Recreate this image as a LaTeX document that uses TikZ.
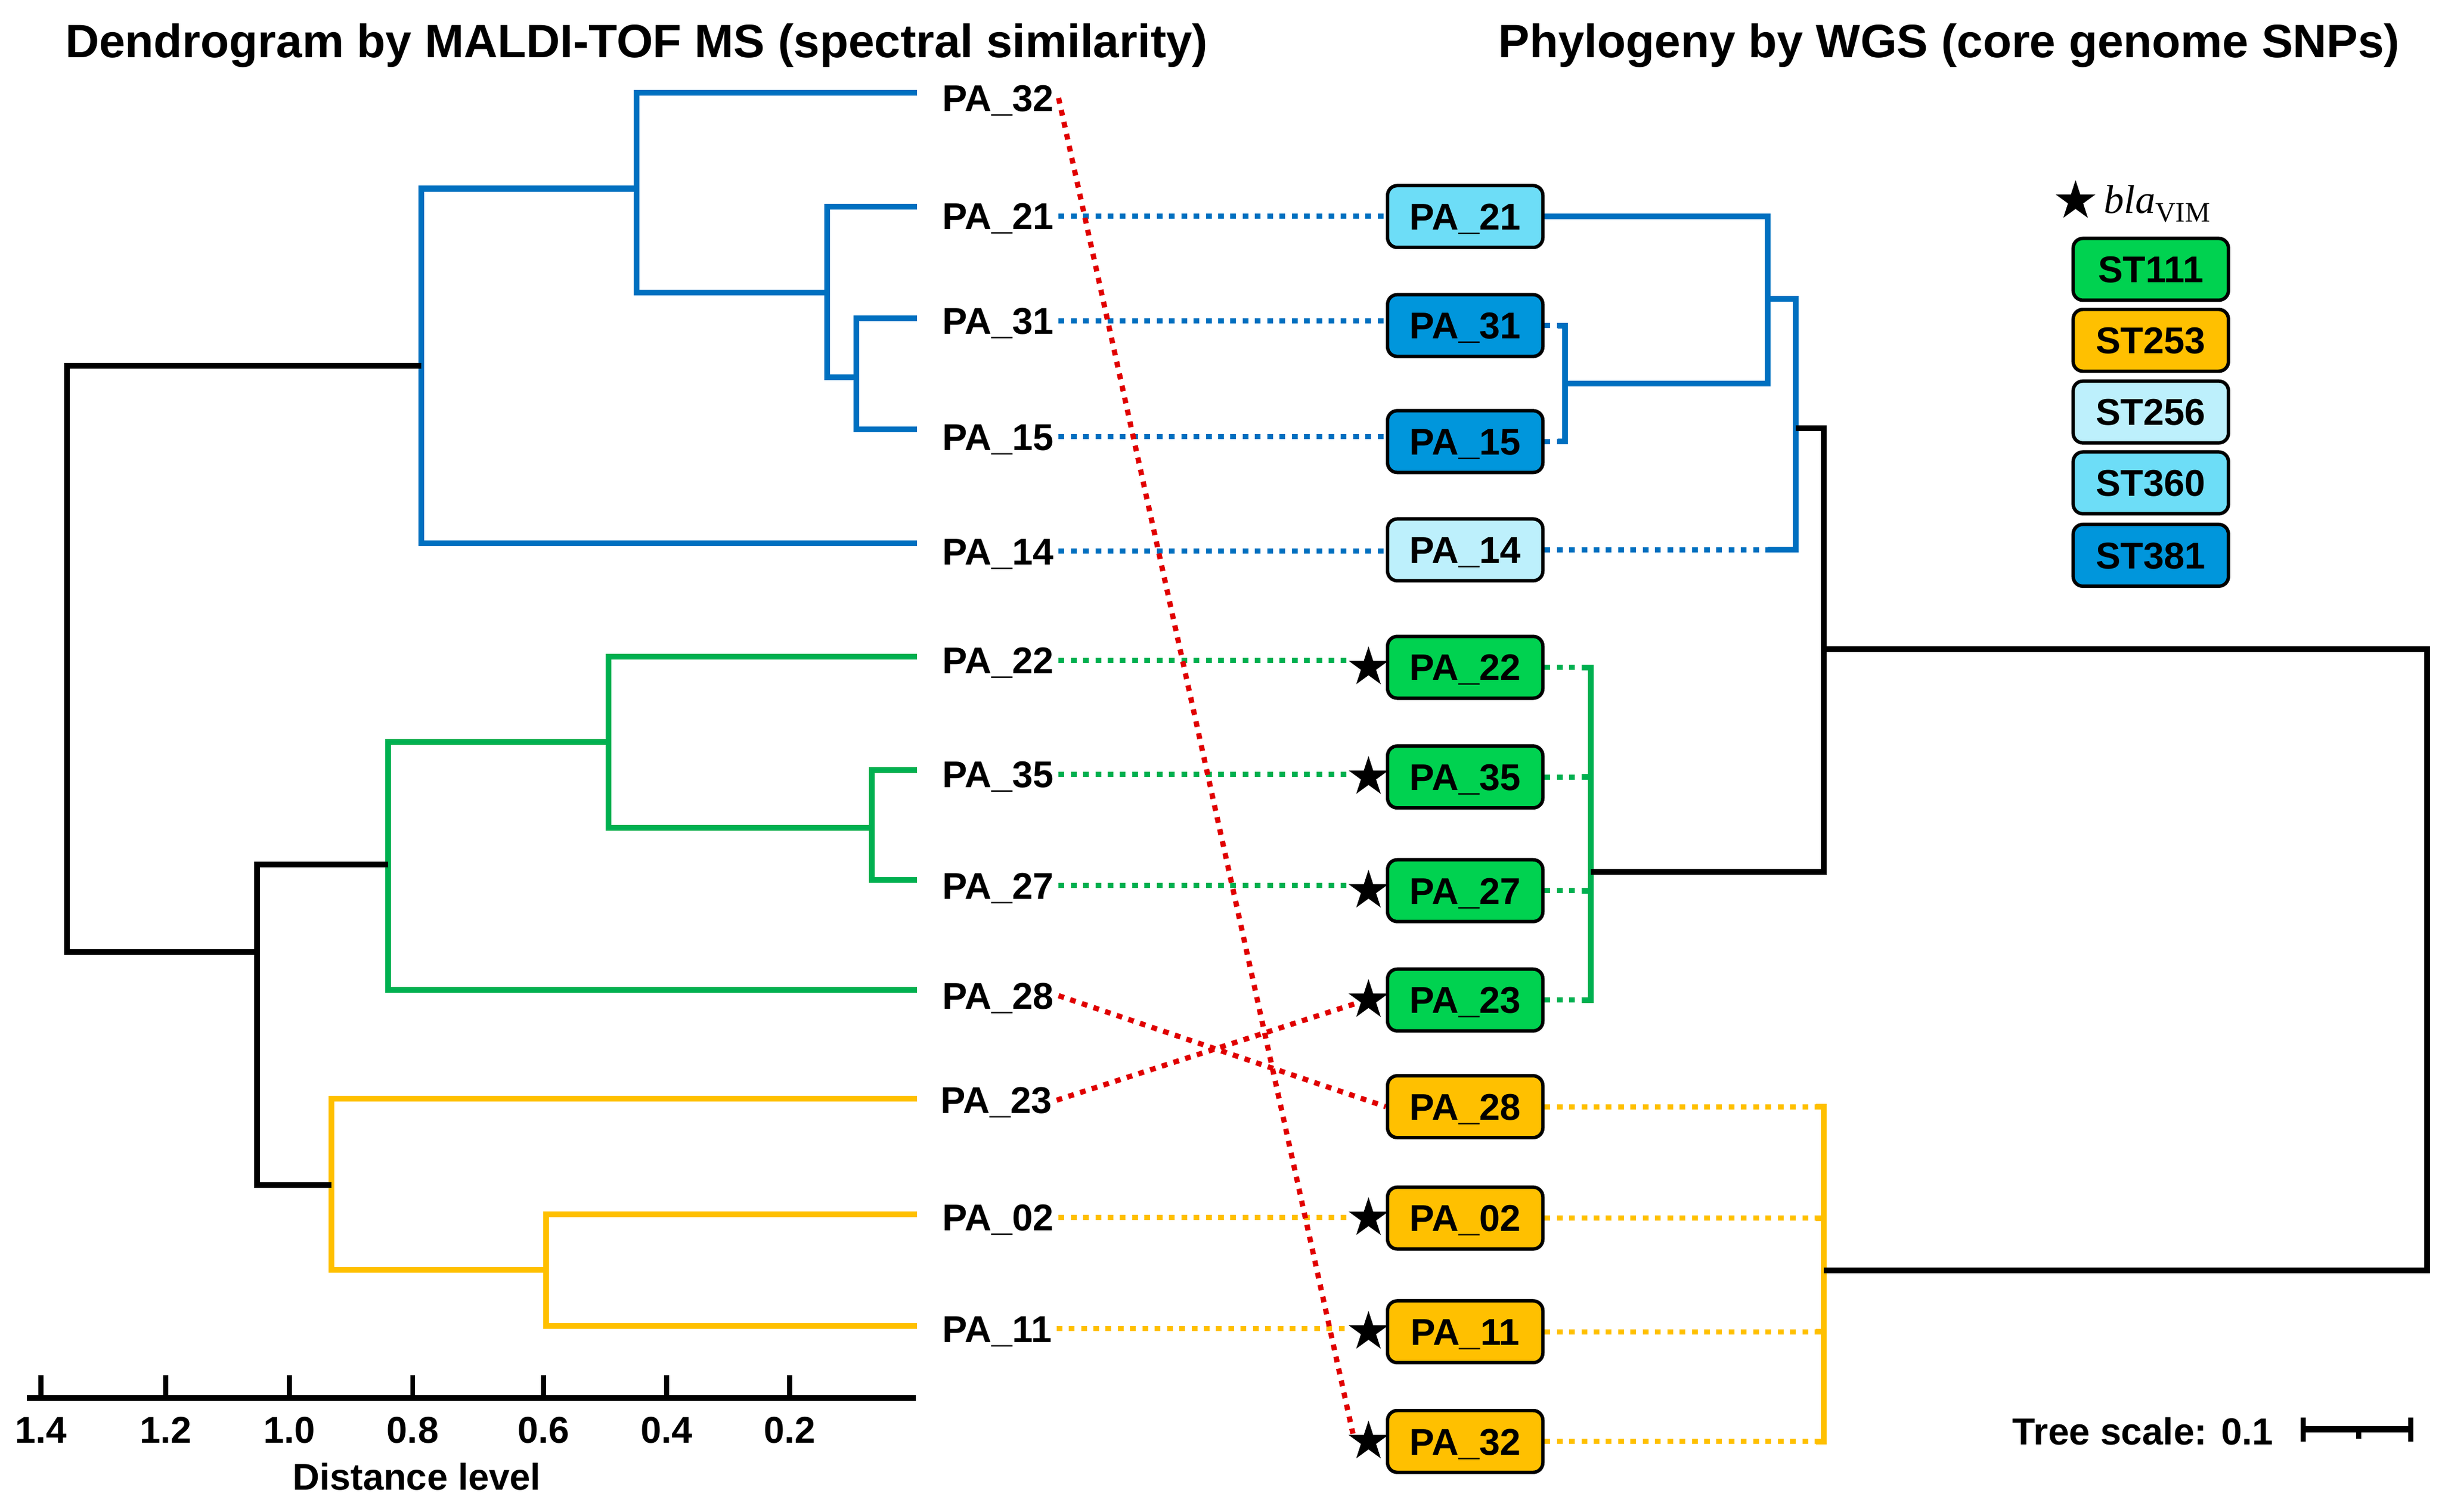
\documentclass[tikz,border=0pt]{standalone}
\usepackage{fontspec}
\setmainfont{Liberation Sans}
\newfontfamily\serfam{Liberation Serif}
\usetikzlibrary{shapes.geometric,calc}
\pgfdeclarelayer{paper}
\pgfdeclarelayer{links}
\pgfsetlayers{paper,links,main}
\definecolor{tblue}{HTML}{0070C0}
\definecolor{tgreen}{HTML}{00B050}
\definecolor{tyellow}{HTML}{FFC000}
\definecolor{tred}{HTML}{E00000}
\definecolor{stgreen}{HTML}{00D250}
\definecolor{styellow}{HTML}{FFC000}
\definecolor{stpale}{HTML}{BDF0FC}
\definecolor{stcyan}{HTML}{6DDDF7}
\definecolor{stdeep}{HTML}{0096DC}
\begin{document}
\begin{tikzpicture}[x=0.0272066cm,y=-0.0272066cm,
  tl/.style={line width=2.85pt},
  dl/.style={line width=2.6pt,dash pattern=on 2.85pt off 3.25pt},
  lab/.style={inner xsep=2.2pt,inner ysep=0pt,text height=13.25pt,text depth=0pt,font=\fontsize{18.5}{22}\selectfont\bfseries},
  leaf/.style={lab,anchor=west},
  box/.style={lab,draw=black,line width=1.7pt,rounded corners=0.17cm,minimum width=2.713cm,minimum height=1.08cm,inner sep=0pt},
  vstar/.style={star,star points=5,star point ratio=2.618,fill=black,draw=none,minimum size=0.729cm,inner sep=0pt},
  ttl/.style={inner sep=0pt,text height=16.7pt,text depth=0pt,font=\fontsize{23.3}{28}\selectfont\bfseries}]
\begin{pgfonlayer}{paper}
\fill[white] (0,0) rectangle (1568,970.35);
\end{pgfonlayer}
\useasboundingbox (0,0) rectangle (1568,970.35);

% titles
\node[ttl] (t1) at (408.8,26.3) {Dendrogram by MALDI-TOF MS (spectral similarity)};
\node[ttl] (t2) at (1251.5,26.3) {Phylogeny by WGS (core genome SNPs)};

% left labels
\node[leaf] (L32) at (602.2,62.9) {PA\_32};
\node[leaf] (L21) at (602.2,138.6) {PA\_21};
\node[leaf] (L31) at (602.2,206) {PA\_31};
\node[leaf] (L15) at (602.2,280.4) {PA\_15};
\node[leaf] (L14) at (602.2,353.9) {PA\_14};
\node[leaf] (L22) at (602.2,424) {PA\_22};
\node[leaf] (L35) at (602.2,497) {PA\_35};
\node[leaf] (L27) at (602.2,568.5) {PA\_27};
\node[leaf] (L28) at (602.2,639.2) {PA\_28};
\node[leaf] (L23) at (601,706.3) {PA\_23};
\node[leaf] (L02) at (602.2,781.6) {PA\_02};
\node[leaf] (L11) at (602.2,853) {PA\_11};

% stars next to right boxes
\foreach \n/\y in {22/428.4,35/498.8,27/571.8,23/642,02/782,11/855,32/925.4}
  \node[vstar] (S\n) at (878.7,\y) {};

% right boxes
\path
  (940.8,139) node[box,fill=stcyan] (R21) {PA\_21}
  (940.8,209) node[box,fill=stdeep] (R31) {PA\_31}
  (940.8,283.5) node[box,fill=stdeep] (R15) {PA\_15}
  (940.8,353) node[box,fill=stpale] (R14) {PA\_14}
  (940.8,428.4) node[box,fill=stgreen] (R22) {PA\_22}
  (940.8,498.8) node[box,fill=stgreen] (R35) {PA\_35}
  (940.8,571.8) node[box,fill=stgreen] (R27) {PA\_27}
  (940.8,642) node[box,fill=stgreen] (R23) {PA\_23}
  (940.8,710.5) node[box,fill=styellow] (R28) {PA\_28}
  (940.8,782) node[box,fill=styellow] (R02) {PA\_02}
  (940.8,855) node[box,fill=styellow] (R11) {PA\_11}
  (940.8,925.4) node[box,fill=styellow] (R32) {PA\_32};

% connectors between the two trees (behind stars and boxes)
\begin{pgfonlayer}{links}
\draw[dl,tblue] (L21.east) -- (L21.east -| R21.west);
\draw[dl,tblue] (L31.east) -- (L31.east -| R31.west);
\draw[dl,tblue] (L15.east) -- (L15.east -| R15.west);
\draw[dl,tblue] (L14.east) -- (L14.east -| R14.west);
\draw[dl,tgreen] (L22.east) -- (L22.east -| S22.outer point 2);
\draw[dl,tgreen] (L35.east) -- (L35.east -| S35.outer point 2);
\draw[dl,tgreen] (L27.east) -- (L27.east -| S27.outer point 2);
\draw[dl,tyellow] (L02.east) -- (L02.east -| S02.outer point 2);
\draw[dl,tyellow] (L11.east) -- (L11.east -| S11.outer point 2);
\draw[dl,tred] (L32.east) -- ($(S32.center)+(-10,-5)$);
\draw[dl,tred] (L28.east) -- (R28.west);
\draw[dl,tred] (L23.east) -- ($(S23.center)+(-7.5,2)$);
\end{pgfonlayer}

% left dendrogram
\coordinate (l32) at (589,59.7);
\coordinate (l21) at (589,132.8);
\coordinate (l31) at (589,204.5);
\coordinate (l15) at (589,275.8);
\coordinate (l14) at (589,348.7);
\coordinate (l22) at (589,421.4);
\coordinate (l35) at (589,494.4);
\coordinate (l27) at (589,565.1);
\coordinate (l28) at (589,635.5);
\coordinate (l23) at (589,705.5);
\coordinate (l02) at (589,779.4);
\coordinate (l11) at (589,851.3);
\coordinate (nA) at (549.7,242.2);
\coordinate (nB) at (531,187.8);
\coordinate (nC) at (408.6,121.1);
\coordinate (nD) at (270.6,234.7);
\coordinate (nF) at (559.7,531.3);
\coordinate (nG) at (390.8,476.4);
\coordinate (nH) at (249.3,555);
\coordinate (nI) at (350.6,815.2);
\coordinate (nJ) at (212.9,760.8);
\coordinate (nK) at (165.2,611.2);
\coordinate (nR) at (42.9,420);
\draw[tl,tblue] (l31) -| (nA) |- (l15);
\draw[tl,tblue] (l21) -| (nB) |- (nA);
\draw[tl,tblue] (l32) -| (nC) |- (nB);
\draw[tl,tblue] (nC) -| (nD) |- (l14);
\draw[tl,tgreen] (l35) -| (nF) |- (l27);
\draw[tl,tgreen] (l22) -| (nG) |- (nF);
\draw[tl,tgreen] (nG) -| (nH) |- (l28);
\draw[tl,tyellow] (l02) -| (nI) |- (l11);
\draw[tl,tyellow] (l23) -| (nJ) |- (nI);
\draw[tl,black] (nH) -| (nK) |- (nJ);
\draw[tl,black] (nD) -| (nR) |- (nK);

% distance axis
\draw[line width=2.85pt] (17.1,897.5) -- (588.1,897.5);
\foreach \x/\t [count=\i] in {26.3/1.4,106.4/1.2,185.8/1.0,265/0.8,349/0.6,428/0.4,507/0.2}{
  \draw[line width=2.4pt] (\x,897.5) -- (\x,882.9);
  \node[lab,inner xsep=0pt] (tick\i) at (\x,918) {\t};
}
\node[lab,inner xsep=0pt] (xlab) at (267.6,947.9) {Distance level};

% right tree
\coordinate (rA) at (1005,246.3);
\coordinate (rB) at (1135,192);
\coordinate (rC) at (1153,275);
\coordinate (rG) at (1021.6,559.6);
\coordinate (rD) at (1171,416.8);
\coordinate (rY) at (1171,815.6);
\coordinate (rR) at (1558.3,616);
\begin{pgfonlayer}{links}
% blue clade
\draw[tl,tblue] (R21.east) -| (rB) |- (rA);
\draw[dl,tblue] (R31.east) -- ($(R31.east -| rA)+(-5,0)$);
\draw[dl,tblue] (R15.east) -- ($(R15.east -| rA)+(-5,0)$);
\draw[tl,tblue] ($(R31.east -| rA)+(-5,0)$) -- (R31.east -| rA) -- (R15.east -| rA) -- ++(-5,0);
\draw[dl,tblue] (R14.east) -- (R14.east -| rB);
\draw[tl,tblue] (rB) -| (rC) |- (R14.east -| rB);
% green clade
\foreach \n in {22,35,27,23}
  \draw[dl,tgreen] (R\n.east) -- ($(R\n.east -| rG)+(-6,0)$);
\draw[tl,tgreen] ($(R22.east -| rG)+(-6,0)$) -- (R22.east -| rG) -- (R23.east -| rG) -- ++(-6,0);
\draw[tl,tgreen] ($(R35.east -| rG)+(-6,0)$) -- (R35.east -| rG);
\draw[tl,tgreen] ($(R27.east -| rG)+(-6,0)$) -- (R27.east -| rG);
% yellow clade
\foreach \n in {28,02,11,32}
  \draw[dl,tyellow] (R\n.east) -- ($(R\n.east -| rY)+(-5,0)$);
\draw[tl,tyellow] ($(R28.east -| rY)+(-5,0)$) -- (R28.east -| rY) -- (R32.east -| rY) -- ++(-5,0);
\draw[tl,tyellow] ($(R02.east -| rY)+(-5,0)$) -- (R02.east -| rY);
\draw[tl,tyellow] ($(R11.east -| rY)+(-5,0)$) -- (R11.east -| rY);
% backbone
\draw[tl,black] (rC) -| (rD) |- (rG);
\draw[tl,black] (rD) -| (rR) |- (rY);
\end{pgfonlayer}

% legend
\node[vstar] (lstar) at (1332.7,129) {};
\node[anchor=base west,inner sep=0pt] (blavim) at (1350.7,136.8)
  {\serfam{\fontsize{20}{24}\selectfont\itshape bla}\raisebox{-0.155cm}{\fontsize{14}{17}\selectfont VIM}};
\node[box,fill=stgreen] (ST111) at (1381,172.9) {ST111};
\node[box,fill=styellow] (ST253) at (1381,218.5) {ST253};
\node[box,fill=stpale] (ST256) at (1381,264.5) {ST256};
\node[box,fill=stcyan] (ST360) at (1381,310) {ST360};
\node[box,fill=stdeep] (ST381) at (1381,356.5) {ST381};

% tree scale
\node[lab,inner xsep=0pt,font=\fontsize{18.7}{22}\selectfont\bfseries] (tscale) at (1376,918.9) {Tree scale: 0.1};
\draw[line width=3pt] (1479,917.6) -- (1548,917.6);
\draw[line width=2.6pt] (1479,910) -- (1479,925.6);
\draw[line width=2.6pt] (1548,910) -- (1548,925.6);
\draw[line width=2.6pt] (1514.4,917.6) -- (1514.4,923.5);
\end{tikzpicture}
\end{document}
